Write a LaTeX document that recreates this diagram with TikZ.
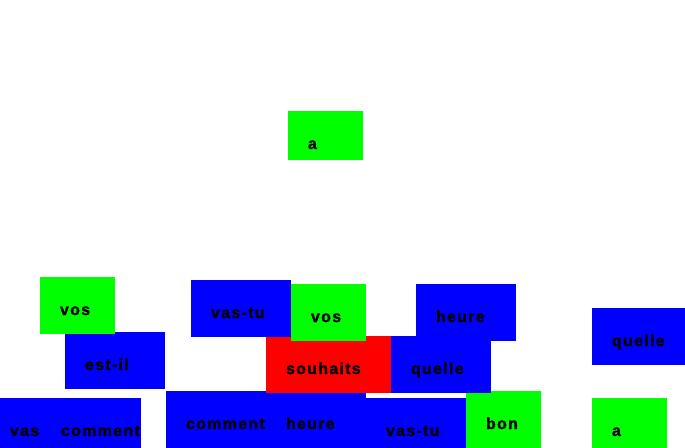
\documentclass[tikz,border=0pt]{standalone}
\usepackage{fontspec}
\newfontfamily\tilefont[LetterSpace=8,BoldFeatures={FakeBold=1.3}]{Liberation Sans}
\usetikzlibrary{positioning}

\begin{document}
\begin{tikzpicture}[
    x=1pt, y=-1pt,
    every node/.style={font=\tilefont\bfseries\fontsize{16}{18}\selectfont},
    tile/.style={anchor=north west, inner xsep=20pt, inner ysep=0pt, outer sep=0pt, text height=38pt, text depth=19pt, align=left},
    bluetile/.style={tile, fill=blue, text width=60pt},
    greentile/.style={tile, fill=green, text width=35pt},
    redtile/.style={tile, fill=red, text width=85pt}
]
\clip (0,0) rectangle (685,447);
% bottom row
\node[bluetile] (vas) at (-10,398) {vas};
\node[bluetile] (comment1) at (41,398) {comment};
\node[bluetile] (comment2) at (166,391) {comment};
\node[bluetile, right=0pt of comment2.north east, anchor=north west] (heure1) {heure};
\node[bluetile] (vastu1) at (366,398) {vas-tu};
\node[greentile] (bon) at (466,391) {bon};
% middle cluster
\node[redtile] (souhaits) at (266,336) {souhaits};
\node[greentile] (vos1) at (291,284) {vos};
\node[bluetile] (vastu2) at (191,280) {vas-tu};
\node[bluetile, right=0pt of souhaits.north east, anchor=north west] (quelle1) {quelle};
\node[bluetile] (heure2) at (416,284) {heure};
% left cluster
\node[bluetile] (estil) at (65,332) {est-il};
\node[greentile] (vos2) at (40,277) {vos};
% right column
\node[bluetile] (quelle2) at (592,308) {quelle};
\node[greentile] (a1) at (592,398) {a};
% top
\node[greentile, text depth=11pt] (a2) at (288,111) {a};
\end{tikzpicture}
\end{document}
